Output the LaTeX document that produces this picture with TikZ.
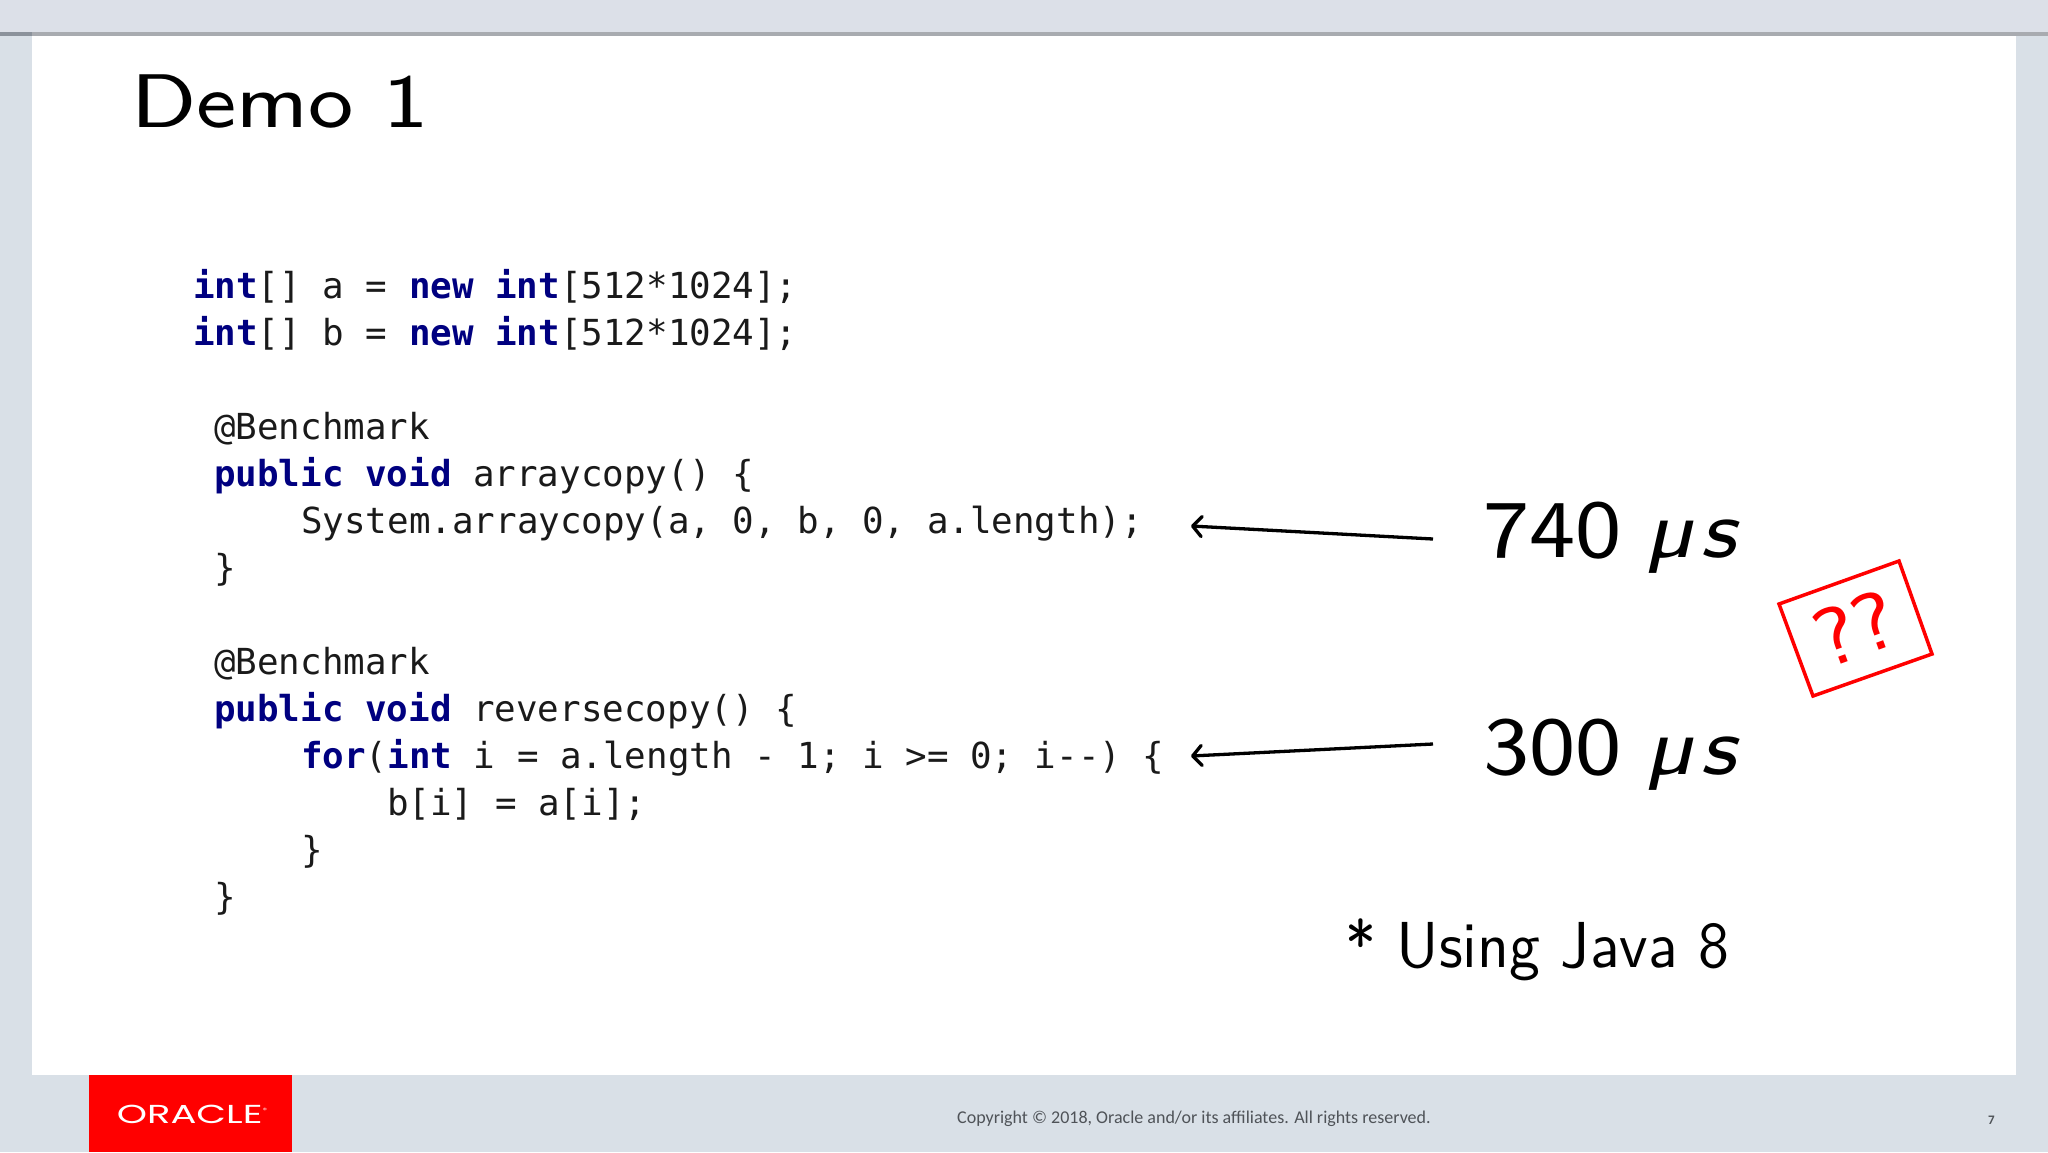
\documentclass[tikz,border=0pt]{standalone}
\usepackage{fontspec}
\usetikzlibrary{arrows.meta}
\setmonofont{DejaVu Sans Mono}
\newfontfamily\footfont{Carlito}
\newfontfamily\logofont{Poppins}
\newfontfamily\lmten{lmsans10-regular.otf}
\newfontfamily\lmeight{lmsans8-regular.otf}[ItalicFont=lmsans8-oblique.otf]
\definecolor{bandtop}{HTML}{DCE0E8}
\definecolor{bandside}{HTML}{D9E0E7}
\definecolor{rulegrey}{HTML}{A8ABB0}
\definecolor{rulecorner}{HTML}{8B929B}
\definecolor{kwblue}{HTML}{000080}
\definecolor{codegrey}{HTML}{1A1A1A}
\definecolor{footgrey}{HTML}{4F5358}
\definecolor{oraclered}{HTML}{FF0000}
\newcommand{\kw}[1]{\textcolor{kwblue}{\bfseries #1}}
\newcommand{\micros}{\hspace{-7pt}\textit{µ\kern7pt s}}
\tikzset{
  x=1pt,y=-1pt,
  codeline/.style={anchor=base west,inner sep=0pt,font=\fontsize{35.85}{40}\selectfont\ttfamily,text=codegrey},
  timelabel/.style={anchor=base west,inner sep=0pt,xscale=1.06,font=\fontsize{82}{96}\selectfont\lmeight},
  arrowline/.style={-{Straight Barb[length=9pt,width=20pt,round]},line width=3.3pt},
}
\begin{document}
\begin{tikzpicture}
\useasboundingbox (0,0) rectangle (2048,1152);
\fill[bandside] (0,0) rectangle (2048,1152);
\fill[bandtop] (0,0) rectangle (2048,32);
\fill[white] (32,32) rectangle (2016,1075);
\fill[rulegrey] (0,32) rectangle (2048,36);
\fill[rulecorner] (0,32) rectangle (32,36);
\fill[oraclered] (89,1075) rectangle (292,1152);
\node[anchor=base,inner sep=0pt,text=white,xscale=1.48,font=\fontsize{26}{28}\selectfont\logofont] (logo) at (192,1123) {ORACLE\raisebox{11pt}{\fontsize{6}{6}\selectfont®}};
\node[anchor=base west,inner sep=0pt,xscale=1.12,font=\fontsize{76}{80}\selectfont\lmeight] (title) at (131,127) {Demo 1};
% code
\node[codeline] (l0) at (193,298) {\kw{int}[] a = \kw{new} \kw{int}[512*1024];};
\node[codeline] (l1) at (193,345) {\kw{int}[] b = \kw{new} \kw{int}[512*1024];};
\node[codeline] (l3) at (214,439) {@Benchmark};
\node[codeline] (l4) at (214,486) {\kw{public} \kw{void} arraycopy() \{};
\node[codeline] (l5) at (301,533) {System.arraycopy(a, 0, b, 0, a.length);};
\node[codeline] (l6) at (214,580) {\}};
\node[codeline] (l8) at (214,674) {@Benchmark};
\node[codeline] (l9) at (214,721) {\kw{public} \kw{void} reversecopy() \{};
\node[codeline] (l10) at (301,768) {\kw{for}(\kw{int} i = a.length - 1; i >= 0; i{-}{-}) \{};
\node[codeline] (l11) at (387,815) {b[i] = a[i];};
\node[codeline] (l12) at (301,862) {\}};
\node[codeline] (l13) at (214,909) {\}};
% timings
\node[timelabel] (t1) at (1483,557) {740 \micros};
\node[timelabel] (t2) at (1483,774) {300 \micros};
\coordinate (a1s) at (1433,539);
\coordinate (a1e) at (1191,526);
\coordinate (a2s) at (1433,744);
\coordinate (a2e) at (1191,756);
\draw[arrowline] (a1s) -- (a1e);
\draw[arrowline] (a2s) -- (a2e);
% stamp
\coordinate (s1) at (1779,604);
\coordinate (s2) at (1899,561);
\coordinate (s3) at (1932,654);
\coordinate (s4) at (1813,696);
\draw[oraclered,line width=3.5pt,line join=miter] (s1) -- (s2) -- (s3) -- (s4) -- cycle;
\node[inner sep=0pt,text=oraclered,rotate=20,font=\fontsize{82}{90}\selectfont\lmeight] (q) at (1855,628) {??};
\node[anchor=base west,inner sep=0pt,xscale=0.95,font=\fontsize{65}{70}\selectfont\lmten] (note) at (1345,967) {* Using Java 8};
% footer
\node[anchor=base west,inner sep=0pt,text=footgrey,font=\fontsize{18}{20}\selectfont\footfont] (copy) at (957,1123) {Copyright © 2018, Oracle and/or its affiliates. All rights reserved.};
\node[anchor=base west,inner sep=0pt,text=footgrey,font=\fontsize{13}{14}\selectfont\footfont\bfseries] (page) at (1988,1124) {7};
\end{tikzpicture}
\end{document}
